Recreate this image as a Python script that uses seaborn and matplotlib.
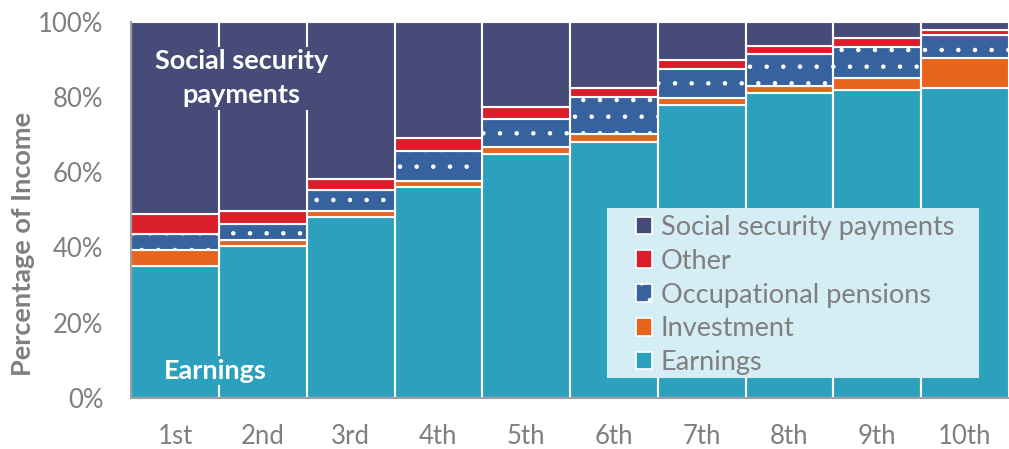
import numpy as np
import pandas as pd
import matplotlib
matplotlib.use("Agg")
import matplotlib.pyplot as plt
import seaborn as sns
from matplotlib.patches import Rectangle, Patch

deciles = ["1st", "2nd", "3rd", "4th", "5th", "6th", "7th", "8th", "9th", "10th"]

earnings = [35.0, 40.5, 48.0, 56.1, 64.8, 68.2, 77.8, 81.2, 82.0, 82.5]
investment = [4.4, 1.6, 1.6, 1.5, 2.0, 1.9, 1.9, 1.7, 3.0, 8.0]
occ_pensions = [4.3, 4.2, 5.8, 8.0, 7.3, 10.0, 7.9, 8.7, 8.3, 6.0]
other = [5.1, 3.4, 2.7, 3.6, 3.3, 2.3, 2.2, 1.9, 2.4, 1.5]
social_security = [51.2, 50.3, 41.9, 30.8, 22.6, 17.6, 10.2, 6.5, 4.3, 2.0]

series = ["Earnings", "Investment", "Occupational pensions", "Other", "Social security payments"]
colors = ["#2CA1BE", "#E8641E", "#36639E", "#DA1F2B", "#474B77"]
hatches = [None, None, ".", None, None]

sns.set_style("white")
plt.rcParams["font.family"] = ["Lato", "DejaVu Sans"]
plt.rcParams["hatch.linewidth"] = 0.8
grey = "#7F7F7F"

df = pd.DataFrame({
    "Decile": deciles,
    "Earnings": earnings,
    "Investment": investment,
    "Occupational pensions": occ_pensions,
    "Other": other,
    "Social security payments": social_security,
})

fig, ax = plt.subplots(figsize=(10.09, 4.49), dpi=100)
fig.subplots_adjust(left=0.130, right=1.0, bottom=0.114, top=0.951)

bottom = np.zeros(len(deciles))
for name, col, h in zip(series, colors, hatches):
    sns.barplot(data=df, x="Decile", y=name, bottom=bottom, color=col,
                width=1.0, edgecolor="white", linewidth=1.5, hatch=h,
                saturation=1, ax=ax)
    bottom = bottom + df[name].values

ax.set_xlim(-0.5, 9.5)
ax.set_ylim(0, 100)
ax.set_yticks(range(0, 101, 20))
ax.set_yticklabels([f"{v}%" for v in range(0, 101, 20)])
ax.tick_params(axis="both", length=0, labelsize=18.5, colors=grey)
ax.tick_params(axis="y", pad=20)
ax.tick_params(axis="x", pad=19)
ax.set_xlabel("")
ax.set_ylabel("Percentage of Income", fontsize=19.5, fontweight="bold", color=grey)
ax.yaxis.set_label_coords(-0.109, 0.41)

sns.despine(ax=ax, top=True, right=True)
for s in ["left", "bottom"]:
    ax.spines[s].set_color("#A0A0A0")
    ax.spines[s].set_linewidth(1.5)

ax.text(0.753, 85, "Social security\npayments", ha="center", va="center",
        fontsize=19.5, fontweight="bold", color="white", linespacing=1.5,
        bbox=dict(facecolor=colors[4], edgecolor="none", pad=2))
ax.text(0.457, 7.2, "Earnings", ha="center", va="center",
        fontsize=19.5, fontweight="bold", color="white",
        bbox=dict(facecolor=colors[0], edgecolor="none", pad=2))

# legend panel
ax.add_patch(Rectangle((0.542, 0.053), 0.424, 0.452, transform=ax.transAxes,
                       facecolor="#D5EDF4", edgecolor="none", zorder=5))
handles = [Patch(facecolor=c, edgecolor="white", linewidth=1.2, hatch=h, label=n)
           for n, c, h in zip(series, colors, hatches)][::-1]
leg = ax.legend(handles=handles, loc="upper left", bbox_to_anchor=(0.566, 0.509),
                frameon=False, fontsize=19.5, labelcolor=grey, handlelength=0.6,
                handleheight=0.6, handletextpad=0.3, labelspacing=0.33,
                borderpad=0.3, borderaxespad=0)
leg.set_zorder(6)

fig.savefig("out.png", dpi=100)
